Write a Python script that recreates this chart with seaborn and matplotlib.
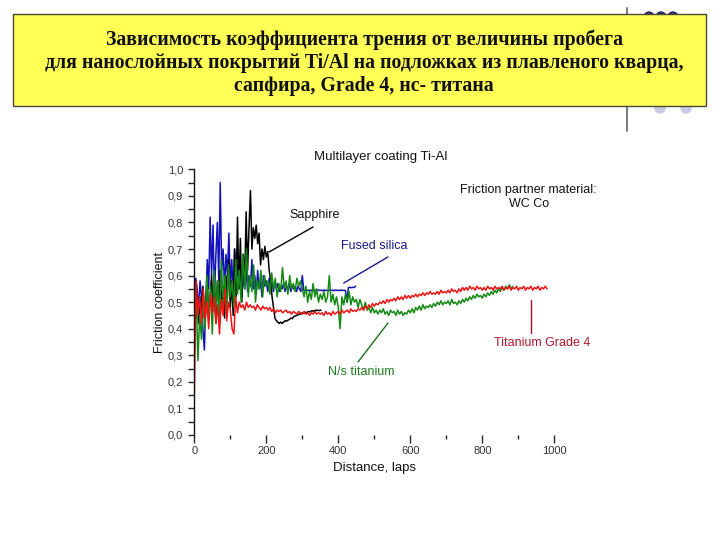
import numpy as np
import pandas as pd
import matplotlib
matplotlib.use("Agg")
import matplotlib.pyplot as plt
from matplotlib.patches import Rectangle, Circle
import seaborn as sns

sns.set_style("ticks")
plt.rcParams['font.family'] = ['Liberation Sans', 'DejaVu Sans']

# ---------------- data ----------------
blue_x = np.arange(0, 449, 4)   # Fused silica, laps
blue_y = [0.50, 0.59, 0.55, 0.47, 0.58, 0.52, 0.40, 0.32, 0.50, 0.66,
          0.55, 0.82, 0.60, 0.79, 0.52, 0.68, 0.80, 0.58, 0.95, 0.62,
          0.70, 0.55, 0.68, 0.60, 0.76, 0.56, 0.66, 0.52, 0.70, 0.58,
          0.64, 0.55, 0.62, 0.52, 0.60, 0.55, 0.63, 0.54, 0.60, 0.56,
          0.66, 0.55, 0.60, 0.53, 0.62, 0.55, 0.58, 0.52, 0.60, 0.56,
          0.58, 0.54, 0.59, 0.55, 0.57, 0.54, 0.58, 0.55, 0.57, 0.54,
          0.56, 0.55, 0.57, 0.54, 0.56, 0.55, 0.57, 0.54, 0.56, 0.55,
          0.56, 0.54, 0.56, 0.55, 0.54, 0.60, 0.545, 0.543, 0.546, 0.544,
          0.545, 0.543, 0.546, 0.544, 0.545, 0.543, 0.546, 0.544, 0.545, 0.543,
          0.546, 0.544, 0.545, 0.543, 0.546, 0.544, 0.545, 0.543, 0.546, 0.544,
          0.545, 0.543, 0.546, 0.544, 0.545, 0.543, 0.50, 0.555, 0.556, 0.554,
          0.556, 0.555, 0.56]

black_x = np.arange(0, 353, 4)  # Sapphire
black_y = [0.45, 0.55, 0.50, 0.42, 0.52, 0.46, 0.56, 0.44, 0.50, 0.58,
           0.45, 0.52, 0.60, 0.47, 0.55, 0.42, 0.58, 0.50, 0.62, 0.48,
           0.56, 0.44, 0.60, 0.52, 0.66, 0.48, 0.58, 0.45, 0.70, 0.52,
           0.82, 0.55, 0.74, 0.50, 0.68, 0.58, 0.84, 0.62, 0.78, 0.92,
           0.70, 0.78, 0.74, 0.79, 0.72, 0.76, 0.64, 0.70, 0.66, 0.71,
           0.67, 0.69, 0.62, 0.58, 0.52, 0.48, 0.44, 0.43, 0.425, 0.42,
           0.425, 0.42, 0.425, 0.43, 0.428, 0.432, 0.435, 0.44, 0.438, 0.445,
           0.448, 0.45, 0.452, 0.455, 0.455, 0.46, 0.458, 0.462, 0.46, 0.465,
           0.463, 0.466, 0.468, 0.465, 0.47, 0.468, 0.47, 0.468, 0.47]

green_x = np.arange(0, 886, 5)  # N/s titanium
green_y = [0.30, 0.55, 0.28, 0.45, 0.36,
           0.52, 0.40, 0.60, 0.44, 0.56, 0.38,
           0.62, 0.47, 0.58, 0.42, 0.66, 0.50, 0.60, 0.45, 0.64, 0.52,
           0.58, 0.48, 0.66, 0.53, 0.62, 0.50, 0.68, 0.55, 0.70, 0.52,
           0.60, 0.54, 0.64, 0.50, 0.58, 0.55, 0.62, 0.52, 0.60, 0.56,
           0.58, 0.53, 0.61, 0.55, 0.59, 0.52, 0.57, 0.54, 0.63, 0.55,
           0.58, 0.53, 0.60, 0.55, 0.57, 0.54, 0.59, 0.56, 0.58, 0.55,
           0.52, 0.56, 0.50, 0.54, 0.51, 0.57, 0.52, 0.55, 0.50, 0.53,
           0.51, 0.54, 0.50, 0.52, 0.60, 0.50, 0.53, 0.49, 0.52, 0.48,
           0.40, 0.52, 0.49, 0.53, 0.50, 0.54, 0.49, 0.52, 0.50, 0.51,
           0.48, 0.51, 0.49, 0.47, 0.50, 0.47, 0.48, 0.46, 0.48, 0.46,
           0.47, 0.455, 0.47, 0.46, 0.475, 0.455, 0.465, 0.45, 0.47, 0.46,
           0.465, 0.45, 0.47, 0.455, 0.465, 0.45, 0.46, 0.455, 0.47, 0.46,
           0.475, 0.46, 0.48, 0.47, 0.485, 0.47, 0.49, 0.475, 0.485, 0.48,
           0.49, 0.48, 0.495, 0.485, 0.50, 0.49, 0.505, 0.49, 0.50, 0.495,
           0.505, 0.49, 0.51, 0.495, 0.50, 0.49, 0.505, 0.495, 0.51, 0.50,
           0.515, 0.505, 0.52, 0.51, 0.525, 0.515, 0.53, 0.52, 0.525, 0.515,
           0.53, 0.52, 0.535, 0.525, 0.54, 0.53, 0.545, 0.535, 0.55, 0.54,
           0.555, 0.545, 0.56, 0.55, 0.565, 0.55, 0.56]

red_x = np.arange(0, 981, 5)    # Titanium Grade 4
red_y = [0.15, 0.58, 0.45, 0.52, 0.42,
         0.55, 0.44, 0.50, 0.40, 0.53, 0.46,
         0.52, 0.42, 0.49, 0.38, 0.51, 0.45, 0.55, 0.43, 0.50, 0.47,
         0.40, 0.38, 0.52, 0.46, 0.50, 0.48, 0.49, 0.47, 0.50, 0.48,
         0.49, 0.48, 0.485, 0.47, 0.49, 0.48, 0.47, 0.485, 0.475, 0.48,
         0.47, 0.48, 0.465, 0.475, 0.46, 0.47, 0.465, 0.47, 0.46, 0.465,
         0.47, 0.46, 0.465, 0.455, 0.465, 0.46, 0.455, 0.465, 0.46, 0.455,
         0.465, 0.455, 0.46, 0.45, 0.46, 0.455, 0.465, 0.455, 0.46, 0.455,
         0.46, 0.45, 0.465, 0.455, 0.46, 0.45, 0.465, 0.455, 0.46, 0.465,
         0.455, 0.47, 0.46, 0.465, 0.47, 0.46, 0.475, 0.465, 0.47, 0.465,
         0.475, 0.47, 0.48, 0.47, 0.485, 0.475, 0.49, 0.48, 0.495, 0.485,
         0.495, 0.49, 0.50, 0.495, 0.505, 0.495, 0.51, 0.50, 0.51, 0.505,
         0.515, 0.505, 0.52, 0.51, 0.52, 0.51, 0.525, 0.515, 0.525, 0.515,
         0.525, 0.52, 0.53, 0.52, 0.53, 0.525, 0.535, 0.525, 0.535, 0.53,
         0.54, 0.53, 0.535, 0.53, 0.54, 0.53, 0.545, 0.535, 0.54, 0.535,
         0.545, 0.535, 0.55, 0.54, 0.545, 0.535, 0.55, 0.54, 0.555, 0.545,
         0.555, 0.545, 0.56, 0.55, 0.555, 0.545, 0.56, 0.55, 0.555, 0.545,
         0.555, 0.545, 0.56, 0.55, 0.555, 0.545, 0.56, 0.55, 0.555, 0.55,
         0.56, 0.545, 0.555, 0.55, 0.56, 0.545, 0.555, 0.55, 0.56, 0.545,
         0.555, 0.55, 0.56, 0.545, 0.555, 0.55, 0.56, 0.545, 0.555, 0.55,
         0.56, 0.545, 0.555, 0.55, 0.56, 0.55]

x_ticks = [0, 200, 400, 600, 800, 1000]
y_ticks = [0.0, 0.1, 0.2, 0.3, 0.4, 0.5, 0.6, 0.7, 0.8, 0.9, 1.0]
y_tick_labels = ["0,0", "0,1", "0,2", "0,3", "0,4", "0,5", "0,6", "0,7", "0,8", "0,9", "1,0"]

series = [("Fused silica", blue_x, blue_y, "#1212b8"),
          ("Sapphire", black_x, black_y, "#000000"),
          ("N/s titanium", green_x, green_y, "#148a14"),
          ("Titanium Grade 4", red_x, red_y, "#ee1414")]

# ---------------- figure ----------------
W, H = 720, 540
fig = plt.figure(figsize=(7.2, 5.4), dpi=100)
fig.patch.set_facecolor("white")

def fx(px):
    return px / W

def fy(py):
    return 1 - py / H

def pixel_layer(z):
    a = fig.add_axes([0, 0, 1, 1], zorder=z)
    a.set_xlim(0, W)
    a.set_ylim(H, 0)
    a.axis("off")
    a.patch.set_visible(False)
    return a

# slide decorations (only the parts not hidden by the yellow box)
deco = pixel_layer(0)
clip_top = Rectangle((0, 0), W, 14, transform=deco.transData)
clip_bot = Rectangle((0, 106), W, H - 106, transform=deco.transData)
for y0, y1, clip in ((8, 14, clip_top), (106, 131, clip_bot)):
    ln, = deco.plot([627, 627], [y0, y1], color="#7a7a7a", lw=1.4)
for cx in (649, 661, 673):
    c = Circle((cx, 17), 5, color="#2b2b66")
    deco.add_patch(c)
    c.set_clip_path(clip_top)
for cx in (660, 686):
    c = Circle((cx, 108), 5, color="#c9c9e2")
    deco.add_patch(c)
    c.set_clip_path(clip_bot)

# yellow title box
boxl = pixel_layer(1)
boxl.add_patch(Rectangle((13, 14), 706 - 13, 106 - 14, facecolor="#ffff55",
                         edgecolor="#4a4a3a", lw=1.0))
box_lines = ["Зависимость коэффициента трения от величины пробега",
             "для нанослойных покрытий Ti/Al на подложках из плавленого кварца,",
             "сапфира, Grade 4, нс- титана"]
for txt, py in zip(box_lines, (40, 63, 86)):
    boxl.text(364, py, txt, ha="center", va="center", fontsize=14.3,
              fontweight="bold", family=["Liberation Serif", "DejaVu Serif"],
              color="#111111")

# chart axes
ax = fig.add_axes([fx(194.3), fy(435), fx(554.3) - fx(194.3), fy(169.3) - fy(435)], zorder=2)
ax.set_facecolor("none")
for name, xs, ys, col in series:
    sns.lineplot(x=xs, y=ys, color=col, lw=1.1, ax=ax, sort=False, estimator=None)

ax.set_xlim(0, 1000)
ax.set_ylim(0, 1.0)
ax.spines["top"].set_visible(False)
ax.spines["right"].set_visible(False)
ax.spines["bottom"].set_visible(False)
ax.spines["left"].set_color("#111111")
ax.spines["left"].set_linewidth(1.0)

ax.set_xticks(x_ticks)
ax.set_xticklabels([str(t) for t in x_ticks])
ax.set_xticks([100, 300, 500, 700, 900], minor=True)
ax.set_yticks(y_ticks)
ax.set_yticklabels(y_tick_labels)
ax.set_yticks([0.05, 0.15, 0.25, 0.35, 0.45, 0.55, 0.65, 0.75, 0.85, 0.95], minor=True)
ax.tick_params(axis="x", which="major", length=6, width=1.0, pad=2, labelsize=8, labelcolor="#333333")
ax.tick_params(axis="x", which="minor", length=3, width=1.0)
ax.tick_params(axis="y", which="major", length=4, width=1.0, pad=4, labelsize=8, labelcolor="#333333")
ax.tick_params(axis="y", which="minor", length=4, width=1.0)

ax.set_xlabel("Distance, laps", fontsize=9.5, color="#111111", labelpad=4)
ax.set_ylabel("Friction coefficient", fontsize=9, color="#111111", labelpad=1)

ax.text(519, 1.046, "Multilayer coating Ti-Al", ha="center", va="center", fontsize=9.5,
        color="#111111", clip_on=False)
ax.text(927, 0.922, "Friction partner material:", ha="center", va="center", fontsize=9,
        color="#111111")
ax.text(929, 0.870, "WC Co", ha="center", va="center", fontsize=9, color="#111111")

# annotations
ax.plot([208, 330], [0.689, 0.783], color="#000000", lw=1.0)
ax.text(334, 0.828, "Sapphire", ha="center", va="center", fontsize=9, color="#111111")
ax.plot([415, 538], [0.572, 0.670], color="#1a1a8c", lw=1.0)
ax.text(501, 0.711, "Fused silica", ha="center", va="center", fontsize=9, color="#1a1a8c")
ax.plot([538, 455], [0.4215, 0.275], color="#1e6e1e", lw=1.0)
ax.text(463, 0.237, "N/s titanium", ha="center", va="center", fontsize=9, color="#1e7a1e")
ax.plot([936, 936], [0.508, 0.384], color="#a01428", lw=1.0)
ax.text(967, 0.346, "Titanium Grade 4", ha="center", va="center", fontsize=9,
        color="#b01830", clip_on=False)

fig.savefig("out.png", dpi=100)
